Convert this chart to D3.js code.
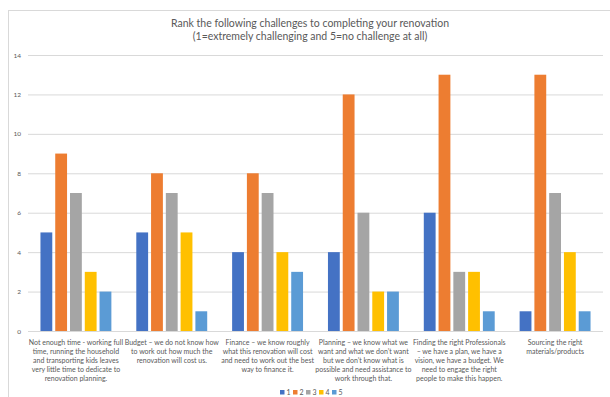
<!DOCTYPE html>
<html>
<head>
<meta charset="utf-8">
<script src="https://cdn.jsdelivr.net/npm/d3@7"></script>
<style>
  html, body { margin: 0; padding: 0; background: #fff; }
  svg { display: block; font-family: Lato, "Open Sans", sans-serif; }
</style>
</head>
<body>
<svg id="chart" width="610" height="397"></svg>
<script>
// Survey categories, each label pre-wrapped into display lines
const categories = [
  ["Not enough time - working full", "time, running the household", "and transporting kids leaves", "very little time to dedicate to", "renovation planning."],
  ["Budget \u2013 we do not know how", "to work out how much the", "renovation will cost us."],
  ["Finance \u2013 we know roughly", "what this renovation will cost", "and need to work out the best", "way to finance it."],
  ["Planning \u2013 we know what we", "want and what we don\u2019t want", "but we don\u2019t know what is", "possible and need assistance to", "work through that."],
  ["Finding the right Professionals", "\u2013 we have a plan, we have a", "vision, we have a budget.  We", "need to engage the right", "people to make this happen."],
  ["Sourcing the right", "materials/products"]
];

const seriesNames = ["1", "2", "3", "4", "5"];

// Number of responses per rank, one array per rank
const rank1 = [5, 5, 4, 4, 6, 1];
const rank2 = [9, 8, 8, 12, 13, 13];
const rank3 = [7, 7, 7, 6, 3, 7];
const rank4 = [3, 5, 4, 2, 3, 4];
const rank5 = [2, 1, 3, 2, 1, 1];

const yTicks = [0, 2, 4, 6, 8, 10, 12, 14];

const seriesValues = [rank1, rank2, rank3, rank4, rank5];
const colors = ["#4472C4", "#ED7D31", "#A5A5A5", "#FFC000", "#5B9BD5"];

const svg = d3.select("#chart");
const textColor = "#595959";

// Outer chart frame
svg.append("rect")
  .attr("x", 8.5).attr("y", 10.5)
  .attr("width", 640).attr("height", 420)
  .attr("fill", "#fff").attr("stroke", "#d9d9d9").attr("stroke-width", 1);

// Title
const title = svg.append("text")
  .attr("text-anchor", "middle")
  .attr("fill", textColor)
  .attr("font-size", 10.5);
title.append("tspan").attr("x", 310).attr("y", 27)
  .text("Rank the following challenges to completing your renovation");
title.append("tspan").attr("x", 310).attr("y", 40)
  .text("(1=extremely challenging and 5=no challenge at all)");

const plot = { left: 28, right: 603, top: 55, bottom: 331 };

const x0 = d3.scaleBand()
  .domain(d3.range(categories.length))
  .range([plot.left, plot.right])
  .paddingInner(0).paddingOuter(0);

const groupGap = x0.bandwidth() * 0.13;
const x1 = d3.scaleBand()
  .domain(seriesNames)
  .range([groupGap, x0.bandwidth() - groupGap])
  .paddingInner(0.2).paddingOuter(0);

const y = d3.scaleLinear().domain([0, 14]).range([plot.bottom, plot.top]);

// Gridlines and y tick labels
const yAxis = d3.axisLeft(y)
  .tickValues(yTicks)
  .tickSize(-(plot.right - plot.left))
  .tickPadding(7);
const yg = svg.append("g")
  .attr("transform", `translate(${plot.left},0)`)
  .call(yAxis);
yg.select(".domain").remove();
yg.selectAll(".tick line").attr("stroke", "#d9d9d9").attr("stroke-width", 1);
yg.selectAll(".tick text")
  .attr("fill", textColor)
  .attr("font-size", 6.5)
  .attr("font-family", "Lato, 'Open Sans', sans-serif");

// Bars
const groups = svg.append("g").selectAll("g")
  .data(categories.map((c, i) => i))
  .join("g")
  .attr("transform", i => `translate(${x0(i)},0)`);

groups.selectAll("rect")
  .data(i => seriesNames.map((s, k) => ({ s, k, v: seriesValues[k][i] })))
  .join("rect")
  .attr("x", d => x1(d.s))
  .attr("width", x1.bandwidth())
  .attr("y", d => y(d.v))
  .attr("height", d => y(0) - y(d.v))
  .attr("fill", d => colors[d.k]);

// Category labels
const labels = svg.append("g").selectAll("text")
  .data(categories)
  .join("text")
  .attr("text-anchor", "middle")
  .attr("fill", textColor)
  .attr("font-size", 7);
labels.each(function (lines, i) {
  const t = d3.select(this);
  lines.forEach((line, j) => {
    t.append("tspan")
      .attr("x", x0(i) + x0.bandwidth() / 2)
      .attr("y", 344.5 + j * 9.1)
      .text(line);
  });
});

// Legend
const legendStep = 13;
const legendStart = 280;
const legend = svg.append("g").selectAll("g")
  .data(seriesNames)
  .join("g")
  .attr("transform", (d, i) => `translate(${legendStart + i * legendStep},390)`);
legend.append("rect")
  .attr("x", 0).attr("y", 0)
  .attr("width", 4.5).attr("height", 4.5)
  .attr("fill", (d, i) => colors[i]);
legend.append("text")
  .attr("x", 6.5).attr("y", 5)
  .attr("fill", textColor)
  .attr("font-size", 7)
  .text(d => d);
</script>
</body>
</html>
